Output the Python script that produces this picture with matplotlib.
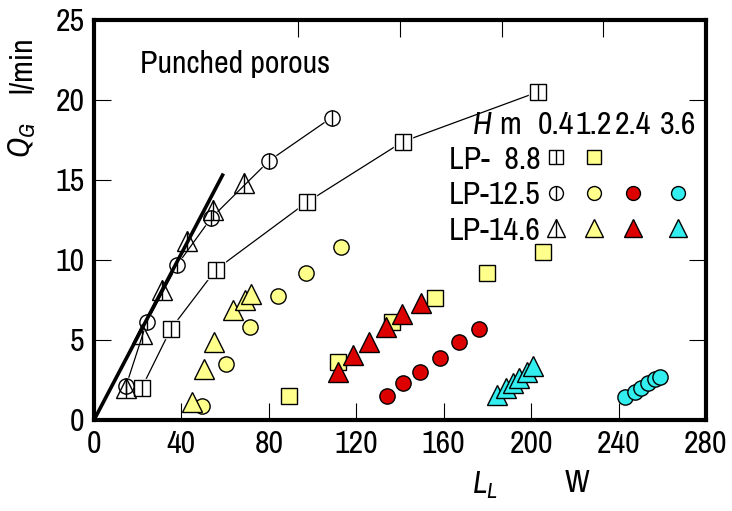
import matplotlib
matplotlib.use('Agg')
import matplotlib.pyplot as plt

plt.rcParams['font.family'] = ['Archivo Narrow', 'Liberation Sans', 'DejaVu Sans']
plt.rcParams['mathtext.fontset'] = 'custom'
plt.rcParams['mathtext.rm'] = 'Archivo Narrow'
plt.rcParams['mathtext.it'] = 'Archivo Narrow:italic'

# H = 0.4 m (open markers, joined by lines)
sq04_x = [21.8, 35.2, 55.8, 97.3, 141.4, 203.1]
sq04_y = [2.0, 5.7, 9.4, 13.6, 17.4, 20.5]
ci04_x = [14.6, 24.1, 38.1, 53.5, 80.1, 108.7]
ci04_y = [2.1, 6.1, 9.7, 12.6, 16.2, 18.9]
tr04_x = [14.6, 21.8, 31.2, 42.7, 54.6, 68.6]
tr04_y = [2.0, 5.4, 8.1, 11.2, 13.1, 14.8]

# H = 1.2 m
sq12_x = [89.3, 111.8, 136.2, 156.0, 179.9, 205.3]
sq12_y = [1.5, 3.6, 6.1, 7.6, 9.2, 10.5]
ci12_x = [49.3, 60.4, 71.4, 84.3, 97.0, 112.9]
ci12_y = [0.9, 3.5, 5.8, 7.75, 9.2, 10.8]
tr12_x = [44.7, 50.3, 54.9, 63.7, 69.1, 71.8]
tr12_y = [1.15, 3.2, 4.9, 6.9, 7.5, 7.9]

# H = 2.4 m
ci24_x = [134.2, 141.5, 149.1, 158.3, 167.1, 176.3]
ci24_y = [1.5, 2.3, 3.0, 3.9, 4.9, 5.7]
tr24_x = [111.8, 118.6, 125.7, 133.6, 141.0, 149.5]
tr24_y = [3.0, 4.05, 4.9, 5.8, 6.6, 7.3]

# H = 3.6 m
ci36_x = [242.9, 247.5, 250.5, 253.5, 256.6, 258.9]
ci36_y = [1.46, 1.77, 1.98, 2.3, 2.54, 2.7]
tr36_x = [184.2, 188.5, 191.5, 194.6, 197.9, 201.0]
tr36_y = [1.56, 1.98, 2.3, 2.6, 3.0, 3.4]

# thick reference line
ref_x = [0, 59.2]
ref_y = [0, 15.4]

x_ticks = [0, 40, 80, 120, 160, 200, 240, 280]
y_ticks = [0, 5, 10, 15, 20, 25]
top_ticks = [93.5, 140, 186.5, 233]
right_ticks = [5, 10, 20]

YEL = '#ffff8c'
RED = '#dd0000'
CYA = '#33eeee'

fig = plt.figure(figsize=(7.32, 5.11), dpi=100)
ax = fig.add_axes([0.1284, 0.1781, 0.836, 0.7828])

SZ = {'s': 11.5, 'o': 11, '^': 14}

# lines with white gaps around markers
for xs, ys, m in [(sq04_x, sq04_y, 's'), (ci04_x, ci04_y, 'o')]:
    ax.plot(xs, ys, '-', color='black', lw=0.9, marker=m, ms=SZ[m] + 1,
            mfc='white', mec='white', zorder=2)

# open markers with vertical bar
for xs, ys, m in [(sq04_x, sq04_y, 's'), (ci04_x, ci04_y, 'o'), (tr04_x, tr04_y, '^')]:
    ax.plot(xs, ys, ls='none', marker=m, ms=SZ[m], mfc='none', mec='black', mew=1.0, zorder=3)
    ax.plot(xs, ys, ls='none', marker='|', ms=SZ[m], mec='black', mew=1.0, zorder=3)

# filled markers
filled = [
    (sq12_x, sq12_y, 's', YEL),
    (ci12_x, ci12_y, 'o', YEL),
    (tr12_x, tr12_y, '^', YEL),
    (ci24_x, ci24_y, 'o', RED),
    (tr24_x, tr24_y, '^', RED),
    (tr36_x, tr36_y, '^', CYA),
    (ci36_x, ci36_y, 'o', CYA),
]
for xs, ys, m, c in filled:
    ax.plot(xs, ys, ls='none', marker=m, ms=SZ[m], mfc=c, mec='black', mew=1.0, zorder=4)

ax.plot(ref_x, ref_y, color='black', lw=2.6, zorder=5, solid_capstyle='butt')

ax.set_xlim(0, 280)
ax.set_ylim(0, 25)
ax.set_xticks(x_ticks)
ax.set_yticks(y_ticks)
ax.tick_params(direction='in', length=12, width=0.8, labelsize=23, pad=7)
for s in ax.spines.values():
    s.set_linewidth(3)

sec_top = ax.secondary_xaxis('top')
sec_top.set_xticks(top_ticks)
sec_top.tick_params(direction='in', length=12, width=0.8, labeltop=False)
sec_top.spines['top'].set_visible(False)
sec_right = ax.secondary_yaxis('right')
sec_right.set_yticks(right_ticks)
sec_right.tick_params(direction='in', length=12, width=0.8, labelright=False)
sec_right.spines['right'].set_visible(False)

ax.text(0.076, 0.89, 'Punched porous', transform=ax.transAxes, fontsize=23,
        ha='left', va='center')

# legend table
hdr_y = 0.7375
ax.text(0.634, hdr_y, '$H$', transform=ax.transAxes, fontsize=23, ha='center', va='center')
ax.text(0.680, hdr_y, 'm', transform=ax.transAxes, fontsize=23, ha='center', va='center')
col_x = [0.755, 0.8166, 0.8815, 0.9545]
for cx, lab in zip(col_x, ['0.4', '1.2', '2.4', '3.6']):
    ax.text(cx, hdr_y, lab, transform=ax.transAxes, fontsize=23, ha='center', va='center')

rows = [('LP-  8.8', 0.65, 0.6575, 's', [None, YEL]),
        ('LP-12.5', 0.5625, 0.5675, 'o', [None, YEL, RED, CYA]),
        ('LP-14.6', 0.4725, 0.48, '^', [None, YEL, RED, CYA])]
for lab, ty, my, m, cols in rows:
    ax.text(0.5795, ty, lab, transform=ax.transAxes, fontsize=23, ha='left', va='center')
    for cx, c in zip(col_x, cols):
        if c is None:
            ax.plot([cx], [my], transform=ax.transAxes, ls='none', marker=m,
                    ms=SZ[m] - 1, mfc='white', mec='black', mew=1.0, clip_on=False)
            ax.plot([cx], [my], transform=ax.transAxes, ls='none', marker='|',
                    ms=SZ[m] - 1, mec='black', mew=1.0, clip_on=False)
        else:
            ax.plot([cx], [my], transform=ax.transAxes, ls='none', marker=m,
                    ms=SZ[m] - 1, mfc=c, mec='black', mew=1.0, clip_on=False)

# axis labels
fig.text(0.031, 0.726, '$Q_G$', rotation=90, fontsize=23, ha='center', va='center')
fig.text(0.031, 0.873, 'l/min', rotation=90, fontsize=23, ha='center', va='center')
fig.text(0.6626, 0.05, '$L_L$', fontsize=23, ha='center', va='center')
fig.text(0.788, 0.055, 'W', fontsize=23, ha='center', va='center')

fig.savefig('out.png', dpi=100)
